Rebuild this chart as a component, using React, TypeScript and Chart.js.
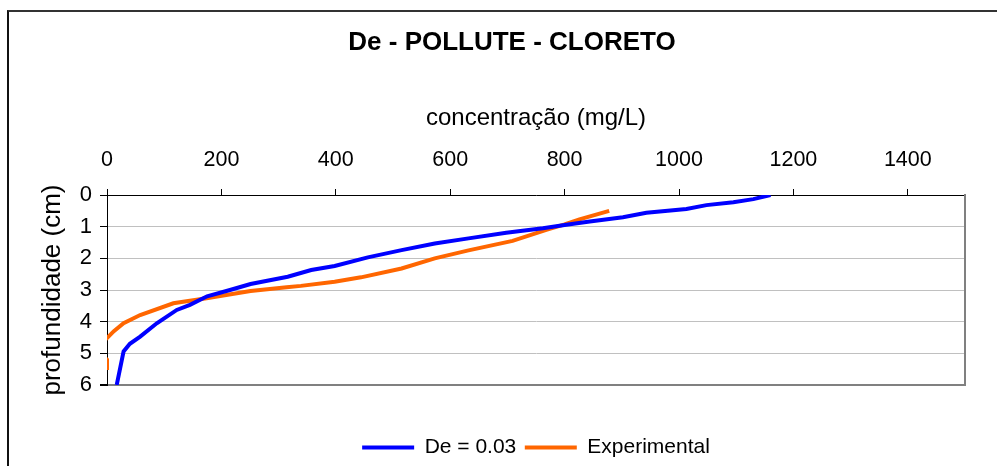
import React, { useEffect, useRef } from "react";
import { Chart, registerables } from "chart.js";

Chart.register(...registerables);

const TITLE = "De - POLLUTE - CLORETO";
const X_TITLE = "concentração (mg/L)";
const Y_TITLE = "profundidade (cm)";
const SERIES_NAMES = ["De = 0.03", "Experimental"];

// De = 0.03 (model) : concentration (mg/L) vs depth (cm)
const blueConc = [1160, 1130, 1095, 1048, 1013, 943, 902, 844, 800, 762, 698, 632, 573, 515, 456, 398, 357, 316, 251, 215, 175, 145, 122, 87, 58, 40, 29, 17];
const blueDepth = [0.0, 0.13, 0.23, 0.32, 0.44, 0.56, 0.7, 0.84, 0.95, 1.05, 1.19, 1.37, 1.53, 1.74, 1.97, 2.24, 2.37, 2.58, 2.81, 3.0, 3.2, 3.47, 3.63, 4.05, 4.47, 4.7, 4.94, 6.0];

// Experimental
const orangeConc = [878, 826, 800, 768, 709, 632, 573, 515, 444, 398, 339, 314, 251, 174, 116, 58, 29, 12, 0, -20, 0, 0];
const orangeDepth = [0.5, 0.77, 0.93, 1.1, 1.45, 1.75, 2.0, 2.32, 2.6, 2.74, 2.87, 2.91, 3.03, 3.26, 3.42, 3.79, 4.05, 4.3, 4.52, 4.85, 5.2, 5.53];

const X_MIN = 0;
const X_MAX = 1500;
const X_STEP = 200;
const Y_MIN = 0;
const Y_MAX = 6;
const Y_STEP = 1;

const FONT = "'Liberation Sans', Arial, sans-serif";

export default function App() {
  const ref = useRef<HTMLCanvasElement | null>(null);

  useEffect(() => {
    if (!ref.current) return;
    const toPts = (xs: number[], ys: number[]) => xs.map((x, i) => ({ x, y: ys[i] }));
    const chart = new Chart(ref.current, {
      type: "line",
      data: {
        datasets: [
          {
            label: SERIES_NAMES[0],
            data: toPts(blueConc, blueDepth),
            borderColor: "#0000FF",
            backgroundColor: "#0000FF",
            borderWidth: 4,
            pointRadius: 0,
            tension: 0,
            clip: 0,
            yAxisID: "y",
          },
          {
            label: SERIES_NAMES[1],
            data: toPts(orangeConc, orangeDepth),
            borderColor: "#FF6600",
            backgroundColor: "#FF6600",
            borderWidth: 4,
            pointRadius: 0,
            tension: 0,
            clip: 0,
            yAxisID: "y",
          },
        ],
      },
      options: {
        animation: false,
        responsive: false,
        devicePixelRatio: 1,
        parsing: false,
        layout: { padding: { left: 27, right: 0, top: 10, bottom: -2 } },
        scales: {
          x: {
            type: "linear",
            position: "top",
            min: X_MIN,
            max: X_MAX,
            ticks: {
              stepSize: X_STEP,
              includeBounds: false,
              padding: 16,
              color: "#000",
              font: { family: FONT, size: 21.5 },
              callback: (v: any) => String(v),
            },
            grid: { drawOnChartArea: false, drawTicks: true, tickLength: 6, tickColor: "#000" },
            border: { display: true, color: "#000", width: 1 },
            title: {
              display: true,
              text: X_TITLE,
              color: "#000",
              font: { family: FONT, size: 24 },
              padding: { top: 0, bottom: -1.5 },
            },
          },
          y: {
            type: "linear",
            position: "left",
            reverse: true,
            min: Y_MIN,
            max: Y_MAX,
            afterFit: (s: any) => {
              s.width = 80;
            },
            ticks: {
              stepSize: Y_STEP,
              padding: 8,
              color: "#000",
              font: { family: FONT, size: 22 },
              callback: (v: any) => String(v),
            },
            grid: {
              drawTicks: true,
              tickLength: 7,
              tickColor: "#000",
              color: (c: any) => (c.tick && c.tick.value === Y_MAX ? "#808080" : "#C0C0C0"),
              lineWidth: (c: any) => (c.tick && c.tick.value === Y_MAX ? 2 : 1),
            },
            border: { display: true, color: "#000", width: 1 },
            title: {
              display: true,
              text: Y_TITLE,
              color: "#000",
              font: { family: FONT, size: 26 },
              padding: { top: 10.4, bottom: 0 },
            },
          },
          y2: {
            type: "linear",
            position: "right",
            reverse: true,
            min: Y_MIN,
            max: Y_MAX,
            afterFit: (s: any) => {
              s.width = 32;
            },
            ticks: { display: false },
            grid: { drawOnChartArea: false, drawTicks: false },
            border: { display: true, color: "#808080", width: 2 },
          },
        },
        plugins: {
          title: {
            display: true,
            text: TITLE,
            color: "#000",
            font: { family: FONT, size: 26, weight: "bold" },
            padding: { top: 17.7, bottom: 45 },
          },
          legend: {
            display: true,
            position: "bottom",
            fullSize: false,
            title: {
              display: true,
              text: " ",
              font: { size: 10 },
              padding: { top: 31.5, bottom: 0 },
            },
            labels: {
              usePointStyle: true,
              pointStyle: "line",
              pointStyleWidth: 52,
              padding: 8.5,
              color: "#000",
              font: { family: FONT, size: 21 },
            },
          },
          tooltip: { enabled: false },
        },
      } as any,
    });
    return () => chart.destroy();
  }, []);

  return (
    <div
      style={{
        position: "fixed",
        left: 0,
        top: 0,
        width: 997,
        height: 466,
        overflow: "hidden",
        background: "#fff",
      }}
    >
      <canvas ref={ref} width={997} height={466} style={{ position: "absolute", left: 0, top: 0 }} />
      <div
        style={{
          position: "absolute",
          left: 7,
          top: 10,
          width: 1100,
          height: 600,
          borderLeft: "2px solid #111",
          borderTop: "2px solid #333",
          pointerEvents: "none",
        }}
      />
    </div>
  );
}
